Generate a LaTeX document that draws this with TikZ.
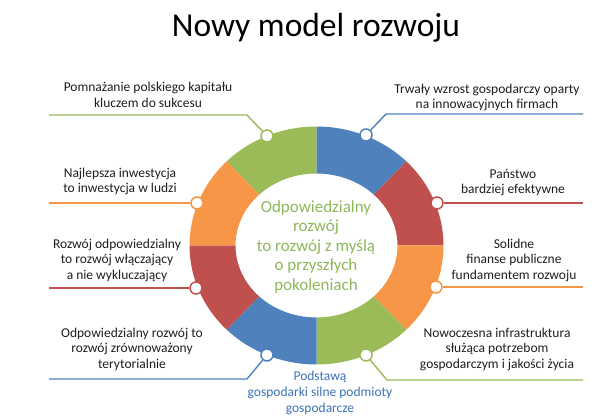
\documentclass[tikz,border=0pt]{standalone}
\usepackage{fontspec}
\setmainfont{Carlito}
\usepackage{tikz}
\usetikzlibrary{positioning,calc}
\definecolor{ringblue}{HTML}{4F81BD}
\definecolor{ringred}{HTML}{C0504D}
\definecolor{ringgreen}{HTML}{9BBB59}
\definecolor{ringorange}{HTML}{F79646}
\definecolor{labeldark}{HTML}{1E1E1E}
\definecolor{coregreen}{HTML}{8DB75A}
\definecolor{basisblue}{HTML}{3D72B8}

\tikzset{
    dot/.style={circle, draw, fill=white, line width=1.5pt, minimum size=12pt, inner sep=0pt},
    link/.style={line width=1.4pt},
    goal/.style={align=center, text=labeldark, font=\fontsize{13.5}{15.5}\selectfont, inner sep=0pt},
}

\begin{document}
\begin{tikzpicture}[x=1pt, y=1pt]
        \useasboundingbox (0,0) rectangle (595,418);

        % Title
        \node[font=\fontsize{33.5}{38}\selectfont, anchor=base] at (316,381) (title) {Nowy model rozwoju};

        % Ring
        \coordinate (ctr) at (316.5,172.5);
        \foreach \a/\col in {90/ringgreen, 45/ringblue, 0/ringred, -45/ringorange, -90/ringgreen, -135/ringblue, -180/ringred, -225/ringorange} {
            \fill[\col] ($(ctr)+(\a:127pt and 119pt)$) arc[start angle=\a, delta angle=45, x radius=127pt, y radius=119pt]
                -- ($(ctr)+(\a+45:81pt and 72pt)$) arc[start angle=\a+45, delta angle=-45, x radius=81pt, y radius=72pt] -- cycle;
        }

        \node[align=center, text=coregreen, font=\fontsize{17}{19.5}\selectfont] at (316,171.5) (core) {Odpowiedzialny\\rozwój\\to rozwój z myślą\\o przyszłych\\pokoleniach};

        % Dots on the ring
        \foreach \n/\x/\y/\col in {1/267/282/ringgreen, 2/197/215/ringorange, 3/196/130/ringred, 4/267/63/ringblue, 5/366/283/ringblue, 6/437/215/ringred, 7/436/131/ringorange, 8/366/63/ringgreen} {
            \node[dot, draw=\col] at (\x,\y) (d\n) {};
        }

        % Connectors, left side
        \coordinate (b1) at (247,303);
        \coordinate (e1) at (49,303);
        \coordinate (e2) at (49,215);
        \coordinate (e3) at (49,130);
        \coordinate (b4) at (247,39);
        \coordinate (e4) at (49,39);
        \draw[link, ringgreen] (d1) -- (b1) -- (e1);
        \draw[link, ringorange] (d2) -- (e2);
        \draw[link, ringred] (d3) -- (e3);
        \draw[link, ringblue] (d4) -- (b4) -- (e4);

        % Connectors, right side
        \coordinate (b5) at (386,304);
        \coordinate (e5) at (583,304);
        \coordinate (e6) at (583,215);
        \coordinate (e7) at (583,131);
        \coordinate (b8) at (387,38);
        \coordinate (e8) at (583,38);
        \draw[link, ringblue] (d5) -- (b5) -- (e5);
        \draw[link, ringred] (d6) -- (e6);
        \draw[link, ringorange] (d7) -- (e7);
        \draw[link, ringgreen] (d8) -- (b8) -- (e8);

        % Labels
        \node[goal] at (148,323) (g1) {Pomnażanie polskiego kapitału\\kluczem do sukcesu};
        \node[goal] at (120,236.5) (g2) {Najlepsza inwestycja\\to inwestycja w ludzi};
        \node[goal] at (117,158) (g3) {Rozwój odpowiedzialny\\to rozwój włączający\\a nie wykluczający};
        \node[goal] at (132,69) (g4) {Odpowiedzialny rozwój to\\rozwój zrównoważony\\terytorialnie};
        \node[goal] at (487,320.5) (g5) {Trwały wzrost gospodarczy oparty\\na innowacyjnych firmach};
        \node[goal] at (513,235.5) (g6) {Państwo\\bardziej efektywne};
        \node[goal] at (514,158) (g7) {Solidne\\finanse publiczne\\fundamentem rozwoju};
        \node[goal] at (497,69) (g8) {Nowoczesna infrastruktura\\służąca potrzebom\\gospodarczym i jakości życia};

        \node[align=center, text=basisblue, font=\fontsize{13.5}{16}\selectfont] at (320,25) (basis) {Podstawą\\gospodarki silne podmioty\\gospodarcze};

    \end{tikzpicture}
\end{document}
